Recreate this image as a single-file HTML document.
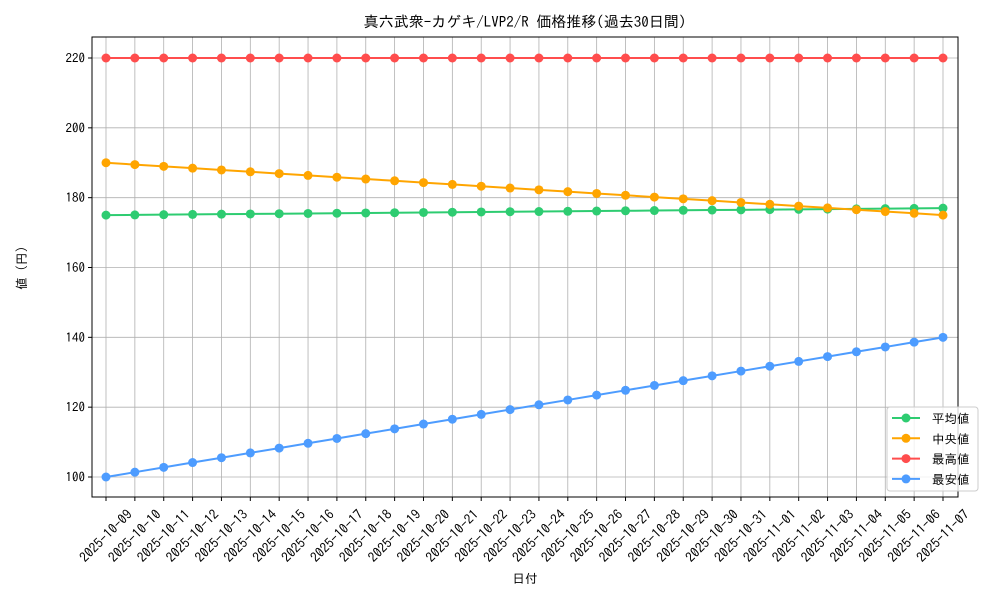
<!DOCTYPE html>
<html><head><meta charset="utf-8"><style>
body{margin:0;background:#fff}
svg{display:block;font-family:"IPAGothic","Liberation Sans","Noto Sans CJK JP",sans-serif}
</style></head><body>
<svg id="chart" width="1000" height="600"></svg>
<script>
const dates=["2025-10-09","2025-10-10","2025-10-11","2025-10-12","2025-10-13","2025-10-14","2025-10-15","2025-10-16","2025-10-17","2025-10-18","2025-10-19","2025-10-20","2025-10-21","2025-10-22","2025-10-23","2025-10-24","2025-10-25","2025-10-26","2025-10-27","2025-10-28","2025-10-29","2025-10-30","2025-10-31","2025-11-01","2025-11-02","2025-11-03","2025-11-04","2025-11-05","2025-11-06","2025-11-07"];
const avgVals=[175,175.07,175.14,175.21,175.28,175.34,175.41,175.48,175.55,175.62,175.69,175.76,175.83,175.9,175.97,176.03,176.1,176.17,176.24,176.31,176.38,176.45,176.52,176.59,176.66,176.72,176.79,176.86,176.93,177];
const medVals=[190,189.48,188.97,188.45,187.93,187.41,186.9,186.38,185.86,185.34,184.83,184.31,183.79,183.28,182.76,182.24,181.72,181.21,180.69,180.17,179.66,179.14,178.62,178.1,177.59,177.07,176.55,176.03,175.52,175];
const maxVals=[220,220,220,220,220,220,220,220,220,220,220,220,220,220,220,220,220,220,220,220,220,220,220,220,220,220,220,220,220,220];
const minVals=[100,101.38,102.76,104.14,105.52,106.9,108.28,109.66,111.03,112.41,113.79,115.17,116.55,117.93,119.31,120.69,122.07,123.45,124.83,126.21,127.59,128.97,130.34,131.72,133.1,134.48,135.86,137.24,138.62,140];
const yTicks=[100,120,140,160,180,200,220];
const seriesNames=["平均値","中央値","最高値","最安値"];
const NS="http://www.w3.org/2000/svg";
const svg=document.getElementById('chart');
const L=92,R=958,T=37,B=497;
const x=i=>106+i*(943-106)/(dates.length-1);
const y=v=>477-(v-100)*(477-58)/120;
function mk(tag,attrs,parent){const e=document.createElementNS(NS,tag);for(const k in attrs)e.setAttribute(k,attrs[k]);(parent||svg).appendChild(e);return e;}
yTicks.forEach(t=>{
 const g=mk('line',{x1:L,x2:R,y1:y(t),y2:y(t),stroke:'#b0b0b0','stroke-width':0.8});
 
 
 mk('line',{x1:L-4,x2:L,y1:y(t),y2:y(t),stroke:'#000'});
 const tx=mk('text',{x:L-7,y:y(t)+4.5,'text-anchor':'end','font-size':13});
 tx.textContent=t;
 
 
});
dates.forEach((d,i)=>{
 const g=mk('line',{x1:x(i),x2:x(i),y1:T,y2:B,stroke:'#b0b0b0','stroke-width':0.8});
 
 
 mk('line',{x1:x(i),x2:x(i),y1:B,y2:B+4,stroke:'#000'});
 const cx=x(i), cy=536;
 const tx=mk('text',{x:cx,y:cy+4.5,'text-anchor':'middle','font-size':13.5,transform:`rotate(-45 ${cx} ${cy})`});
 tx.textContent=d;
 
 
});
const series=[[avgVals,'#2ecc71'],[medVals,'#ffa500'],[maxVals,'#ff4d4d'],[minVals,'#4d9cff']];
series.forEach(([vals,c],si)=>{
 const p=mk('polyline',{points:vals.map((v,i)=>x(i)+','+y(v)).join(' '),fill:'none',stroke:c,'stroke-width':2});
 
 
 vals.forEach((v,i)=>{
  const m=mk('circle',{cx:x(i),cy:y(v),r:4.5,fill:c});
  
  
 });
});
const frame=mk('rect',{x:L,y:T,width:R-L,height:B-T,fill:'none',stroke:'#000','stroke-width':1});


const title=mk('text',{x:525,y:27,'text-anchor':'middle','font-size':15});
title.textContent='真六武衆-カゲキ/LVP2/R 価格推移(過去30日間)';


const xt=mk('text',{x:525,y:583,'text-anchor':'middle','font-size':12.5});
xt.textContent='日付';


const yt=mk('text',{x:26,y:268,'text-anchor':'middle','font-size':12.5,transform:'rotate(-90 26 268)'});
yt.textContent='値 (円)';


const lg=mk('g',{});


mk('rect',{x:887,y:407,width:91,height:84,rx:3,fill:'#fff','fill-opacity':0.8,stroke:'#ccc'},lg);
series.forEach(([v,c],i)=>{
 const yy=418+i*20.3;
 const e=mk('g',{},lg);
 
 
 mk('line',{x1:892,x2:920,y1:yy,y2:yy,stroke:c,'stroke-width':2},e);
 mk('circle',{cx:906,cy:yy,r:4.5,fill:c},e);
 const t=mk('text',{x:932,y:yy+5,'font-size':12.5},e);
 t.textContent=seriesNames[i];
});
</script>
</body></html>
